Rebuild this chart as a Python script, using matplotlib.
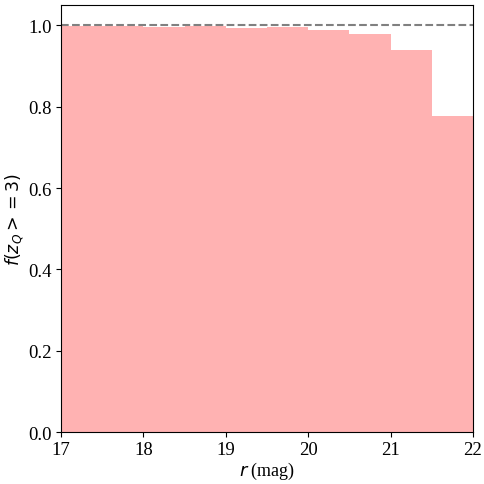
import matplotlib
matplotlib.use("Agg")
import matplotlib.pyplot as plt
import numpy as np

plt.rcParams['font.family'] = ['Liberation Serif', 'DejaVu Serif']
plt.rcParams['mathtext.fontset'] = 'dejavusans'

bin_edges = [17.0, 17.5, 18.0, 18.5, 19.0, 19.5, 20.0, 20.5, 21.0, 21.5, 22.0]
fractions = [0.998, 0.998, 0.997, 0.998, 0.993, 0.996, 0.988, 0.979, 0.940, 0.776]

fig = plt.figure(figsize=(4.85, 4.85), dpi=100)
ax = fig.add_axes([61/485, 1 - 433/485, (473-61)/485, (433-6)/485])

ax.hist(bin_edges[:-1], bins=bin_edges, weights=fractions, color='red', alpha=0.3)
ax.axhline(1.0, color='gray', linestyle='--', linewidth=1.5)

ax.set_xlim(17, 22)
ax.set_ylim(0, 1.05)
ax.set_xticks([17, 18, 19, 20, 21, 22])
ax.set_yticks([0.0, 0.2, 0.4, 0.6, 0.8, 1.0])
ax.tick_params(labelsize=13.5, pad=3)
ax.set_xlabel(r'$r$ (mag)', fontsize=13, labelpad=1)
ax.set_ylabel(r'$f(z_Q >= 3)$', fontsize=12.5, labelpad=2)

fig.savefig('out.png', dpi=100)
